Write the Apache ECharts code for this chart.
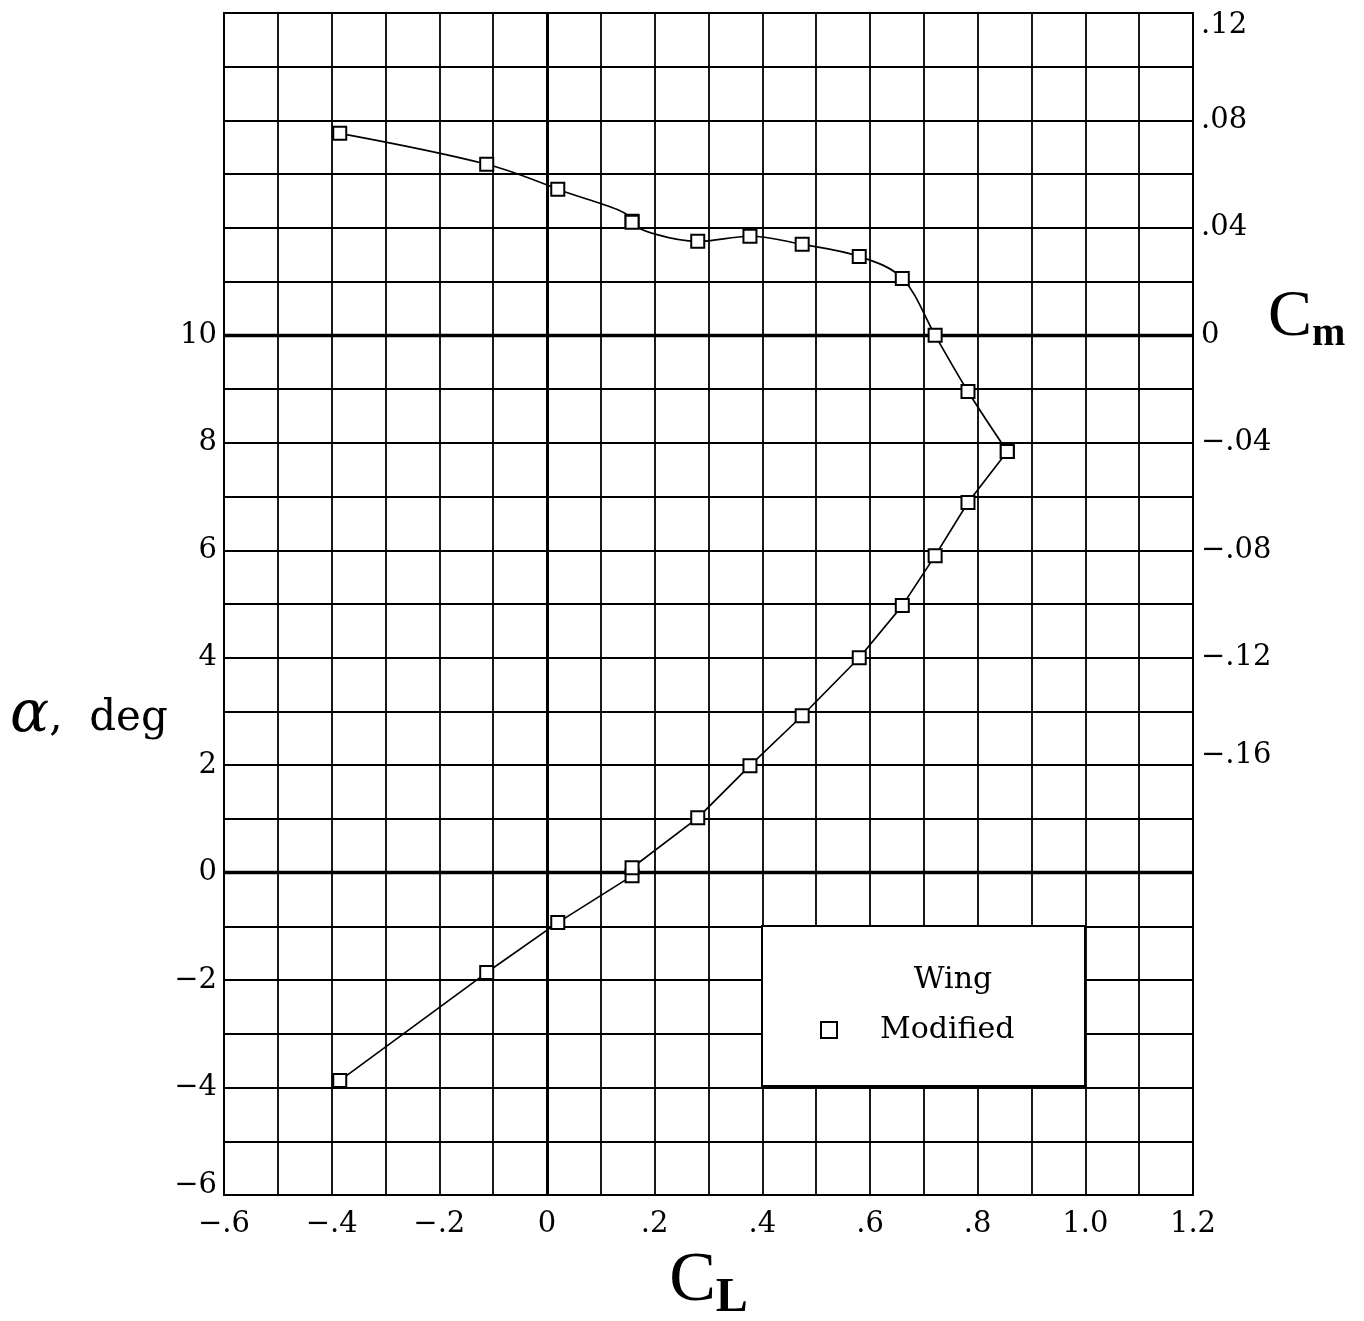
<!DOCTYPE html>
<html>
<head>
<meta charset="utf-8">
<title>Wing lift and pitching moment</title>
<script src="https://cdn.jsdelivr.net/npm/echarts@6/dist/echarts.min.js"></script>
<style>
  html, body { margin: 0; padding: 0; background: #fff; }
  #chart { width: 1364px; height: 1321px; }
</style>
</head>
<body>
<div id="chart"></div>
<script>
// Lift coefficient for each run
const liftCoef = [-0.385, -0.112, 0.020, 0.158, 0.158, 0.280, 0.377, 0.474, 0.580, 0.660, 0.721, 0.782, 0.855];
// Angle of attack, deg
const alphaDeg = [-3.87, -1.86, -0.93, -0.06, 0.09, 1.02, 1.99, 2.92, 4.00, 4.97, 5.90, 6.89, 7.84];
// Pitching-moment coefficient
const momentCoef = [0.0752, 0.0637, 0.0544, 0.0425, 0.0421, 0.0350, 0.0369, 0.0339, 0.0294, 0.0212, 0.0000, -0.0209, -0.0432];

// Axis ranges and labelled ticks
const clRange = [-0.6, 1.2];
const clLabels = [-0.6, -0.4, -0.2, 0, 0.2, 0.4, 0.6, 0.8, 1.0, 1.2];
const alphaRange = [-6, 16];
const alphaLabels = [-6, -4, -2, 0, 2, 4, 6, 8, 10];
const cmRange = [-0.32, 0.12];
const cmLabels = [-0.16, -0.12, -0.08, -0.04, 0, 0.04, 0.08, 0.12];

const seriesName = 'Modified';
const legendTitle = 'Wing';

const SERIF = '"DejaVu Serif", "Liberation Serif", serif';
const TIMES = '"Liberation Serif", "DejaVu Serif", serif';
const MINUS = '\u2212';

function near(list, v, eps) {
  return list.some(t => Math.abs(t - v) < eps);
}
// ".2", "−.4", "0", "1.0" style numbers
function fmtCL(v) {
  if (!near(clLabels, v, 1e-6)) return '';
  const r = Math.round(v * 10) / 10;
  if (r === 0) return '0';
  const a = Math.abs(r);
  const s = a >= 1 ? a.toFixed(1) : a.toFixed(1).replace(/^0/, '');
  return (r < 0 ? MINUS : '') + s;
}
function fmtAlpha(v) {
  if (!near(alphaLabels, v, 1e-6)) return '';
  const r = Math.round(v);
  const s = (r < 0 ? MINUS : '') + Math.abs(r);
  // the bottom label sits a little above its grid line
  return r === alphaLabels[0] ? '{lo|' + s + '}' : s;
}
function fmtCm(v) {
  if (!near(cmLabels, v, 1e-6)) return '';
  const r = Math.round(v * 100) / 100;
  if (r === 0) return '0';
  const s = (r < 0 ? MINUS : '') + Math.abs(r).toFixed(2).replace(/^0/, '');
  if (Math.abs(r - cmLabels[cmLabels.length - 1]) < 1e-6) return '{hi|' + s + '}';
  if (Math.abs(r - cmLabels[0]) < 1e-6) return '{lo|' + s + '}';
  return s;
}

const alphaData = liftCoef.map((c, i) => [c, alphaDeg[i]]);
const momentData = liftCoef.map((c, i) => [c, momentCoef[i]]);

const markerStyle = { color: '#fff', borderColor: '#000', borderWidth: 2 };
const curveStyle = { color: '#000', width: 1.7 };
const heavyLine = { color: '#000', width: 3.4, type: 'solid' };
const tickFont = { fontFamily: SERIF, fontSize: 29, color: '#000' };

const chart = echarts.init(document.getElementById('chart'), null, { renderer: 'canvas' });

chart.setOption({
  backgroundColor: '#fff',
  animation: false,
  textStyle: { fontFamily: SERIF, color: '#000' },
  grid: {
    left: 224, right: 171, top: 13, bottom: 126,
    outerBoundsMode: 'none',
    containLabel: false,
    show: true, borderColor: '#000', borderWidth: 2, backgroundColor: 'transparent'
  },
  xAxis: {
    type: 'value',
    min: clRange[0], max: clRange[1], interval: 0.1,
    axisLine: { show: true, onZero: false, lineStyle: { color: '#000', width: 2 } },
    axisTick: { show: false },
    splitLine: { show: true, lineStyle: { color: '#000', width: 1.8 } },
    axisLabel: Object.assign({ formatter: fmtCL, margin: 15, showMinLabel: true, showMaxLabel: true }, tickFont),
    name: '{c|C}{s|L}',
    nameLocation: 'middle',
    nameGap: 46,
    nameTextStyle: {
      rich: {
        c: { fontFamily: TIMES, fontSize: 70, color: '#000' },
        s: { fontFamily: TIMES, fontSize: 48, fontWeight: 'bold', color: '#000', padding: [34, 0, 0, 0] }
      }
    }
  },
  yAxis: [
    {
      type: 'value',
      min: alphaRange[0], max: alphaRange[1], interval: 1,
      axisLine: { show: true, onZero: false, lineStyle: { color: '#000', width: 2 } },
      axisTick: { show: false },
      splitLine: { show: true, lineStyle: { color: '#000', width: 1.8 } },
      axisLabel: Object.assign({
        formatter: fmtAlpha, margin: 7, showMinLabel: true, showMaxLabel: true,
        rich: { lo: Object.assign({ padding: [0, 0, 20, 0] }, tickFont) }
      }, tickFont)
    },
    {
      type: 'value',
      position: 'right',
      min: cmRange[0], max: cmRange[1], interval: 0.02,
      axisLine: { show: true, onZero: false, lineStyle: { color: '#000', width: 2 } },
      axisTick: { show: false },
      splitLine: { show: false },
      axisLabel: Object.assign({
        formatter: fmtCm, margin: 8, showMinLabel: true, showMaxLabel: true,
        rich: {
          hi: Object.assign({ padding: [24, 0, 0, 0] }, tickFont),
          lo: Object.assign({ padding: [0, 0, 20, 0] }, tickFont)
        }
      }, tickFont)
    }
  ],
  legend: {
    show: true,
    data: [seriesName],
    left: 820, top: 1015, padding: 0,
    icon: 'rect',
    itemWidth: 16, itemHeight: 16,
    itemStyle: { color: '#fff', borderColor: '#000', borderWidth: 2 },
    backgroundColor: 'transparent',
    formatter: '{m|{name}}',
    textStyle: {
      color: '#000',
      rich: { m: { fontFamily: SERIF, fontSize: 30, color: '#000', padding: [0, 0, 0, 38], lineHeight: 34 } }
    },
    selectedMode: false,
    z: 6
  },
  graphic: [
    {
      // legend frame
      type: 'rect', z: 5, silent: true,
      shape: { x: 762, y: 926, width: 323, height: 160 },
      style: { fill: '#fff', stroke: '#000', lineWidth: 2 }
    },
    {
      type: 'text', z: 6, silent: true,
      style: {
        text: legendTitle, x: 953, y: 980, align: 'center', verticalAlign: 'middle',
        font: '30px ' + SERIF, fill: '#000'
      }
    },
    {
      // right-hand axis title
      type: 'text', z: 6, silent: true,
      style: {
        text: '{c|C}{s|m}', x: 1268, y: 318, align: 'left', verticalAlign: 'middle',
        rich: {
          c: { fontFamily: TIMES, fontSize: 66, fill: '#000' },
          s: { fontFamily: TIMES, fontSize: 40, fontWeight: 'bold', fill: '#000', padding: [34, 0, 0, 0] }
        }
      }
    },
    {
      // left-hand axis title
      type: 'text', z: 6, silent: true,
      style: {
        text: '{a|\u03b1}{t|,  deg}', x: 10, y: 716, align: 'left', verticalAlign: 'middle',
        rich: {
          a: { fontFamily: SERIF, fontSize: 58, fontStyle: 'italic', fill: '#000' },
          t: { fontFamily: SERIF, fontSize: 42, fill: '#000', padding: [6, 0, 0, 0] }
        }
      }
    }
  ],
  series: [
    {
      name: seriesName,
      type: 'line',
      xAxisIndex: 0, yAxisIndex: 0,
      data: alphaData,
      smooth: false,
      symbol: 'rect', symbolSize: 13,
      showAllSymbol: true,
      lineStyle: curveStyle,
      itemStyle: markerStyle,
      z: 3,
      markLine: {
        silent: true, symbol: 'none', z: 1,
        label: { show: false },
        lineStyle: heavyLine,
        emphasis: { disabled: true },
        data: [{ xAxis: 0, lineStyle: { width: 3 } }, { yAxis: 0 }]
      }
    },
    {
      name: seriesName,
      type: 'line',
      xAxisIndex: 0, yAxisIndex: 1,
      data: momentData,
      smooth: 0.35,
      symbol: 'rect', symbolSize: 13,
      showAllSymbol: true,
      lineStyle: curveStyle,
      itemStyle: markerStyle,
      z: 3,
      markLine: {
        silent: true, symbol: 'none', z: 1,
        label: { show: false },
        lineStyle: heavyLine,
        emphasis: { disabled: true },
        data: [{ yAxis: 0 }]
      }
    }
  ]
});
</script>
</body>
</html>
